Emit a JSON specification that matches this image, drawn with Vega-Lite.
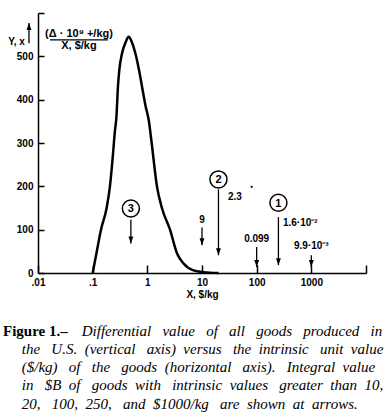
{
  "$schema": "https://vega.github.io/schema/vega-lite/v6.json",
  "width": 328,
  "height": 260,
  "autosize": {"type": "none"},
  "padding": {"left": 38, "top": 13, "right": 23, "bottom": 147},
  "background": "white",
  "config": {
    "view": {"stroke": null},
    "axis": {
      "grid": false,
      "domainColor": "black",
      "domainWidth": 1.5,
      "tickColor": "black",
      "tickWidth": 1.5,
      "labelFont": "Liberation Sans",
      "labelFontWeight": "bold",
      "labelFontSize": 10,
      "labelColor": "black",
      "titleFont": "Liberation Sans",
      "titleFontWeight": "bold",
      "titleFontSize": 10,
      "titleColor": "black"
    },
    "text": {"font": "Liberation Sans", "fontWeight": "bold", "fontSize": 10, "color": "black"}
  },
  "datasets": {
    "curve": [
      {"x": 0.1, "y": 0}, {"x": 0.117, "y": 45}, {"x": 0.142, "y": 100}, {"x": 0.18, "y": 150},
      {"x": 0.207, "y": 200}, {"x": 0.232, "y": 265}, {"x": 0.256, "y": 329}, {"x": 0.272, "y": 360},
      {"x": 0.29, "y": 430}, {"x": 0.308, "y": 470}, {"x": 0.345, "y": 507}, {"x": 0.4, "y": 532},
      {"x": 0.455, "y": 545}, {"x": 0.52, "y": 533}, {"x": 0.604, "y": 507}, {"x": 0.7, "y": 470},
      {"x": 0.8, "y": 430}, {"x": 0.93, "y": 385}, {"x": 1.06, "y": 353}, {"x": 1.2, "y": 300},
      {"x": 1.5, "y": 200}, {"x": 1.85, "y": 150}, {"x": 2.6, "y": 100}, {"x": 3.5, "y": 45},
      {"x": 4.6, "y": 22}, {"x": 7, "y": 6}, {"x": 10.7, "y": 2}, {"x": 20, "y": 0}
    ],
    "arrows": [
      {"x": 0.5, "y": 123, "ytip": 68},
      {"x": 10, "y": 105, "ytip": 64},
      {"x": 20, "y": 193, "ytip": 41},
      {"x": 100, "y": 60, "ytip": 14},
      {"x": 250, "y": 129, "ytip": 18},
      {"x": 1000, "y": 41, "ytip": 14}
    ],
    "circles": [
      {"x": 0.5, "y": 149, "n": "3"},
      {"x": 20, "y": 216, "n": "2"},
      {"x": 250, "y": 162, "n": "1"}
    ],
    "labelsAbove": [
      {"x": 10, "y": 122, "t": "9"},
      {"x": 100, "y": 79, "t": "0.099"},
      {"x": 1000, "y": 62, "t": "9.9·10⁻³"}
    ],
    "labelsRight": [
      {"x": 29.9, "y": 175, "t": "2.3"},
      {"x": 302, "y": 116, "t": "1.6·10⁻²"}
    ],
    "unitsText": [
      {"x": 0.0562, "y": 552, "t": "(Δ · 10⁹ +/kg)"},
      {"x": 0.0562, "y": 524, "t": "X, $/kg"}
    ],
    "fractionBar": [{"x": 0.0166, "x2": 0.19, "y": 538}],
    "yArrow": [{"x": 0.00684, "y": 530, "ytip": 577}],
    "dot": [{"x": 81, "y": 199}]
  },
  "encoding": {
    "x": {
      "field": "x", "type": "quantitative",
      "scale": {"type": "log", "domain": [0.01, 10000]},
      "axis": {
        "values": [0.01, 0.1, 1, 10, 100, 1000, 10000],
        "labelExpr": "datum.value == 0.01 ? '.01' : datum.value == 0.1 ? '.1' : datum.value == 10000 ? '' : format(datum.value, 'd')",
        "tickSize": -8,
        "labelPadding": 12.5,
        "labelFlush": false,
        "title": "X, $/kg",
        "titlePadding": 2
      }
    },
    "y": {
      "field": "y", "type": "quantitative",
      "scale": {"domain": [0, 600], "nice": false},
      "axis": {
        "values": [0, 100, 200, 300, 400, 500, 600],
        "labelExpr": "datum.value == 600 ? '' : datum.label",
        "tickSize": -6,
        "labelPadding": 11,
        "title": "Y, x",
        "titleAngle": 0,
        "titleAlign": "center",
        "titleBaseline": "middle",
        "titleX": -22,
        "titleY": 28
      }
    }
  },
  "layer": [
    {
      "data": {"name": "curve"},
      "mark": {"type": "line", "color": "black", "strokeWidth": 2.5, "interpolate": "monotone"}
    },
    {
      "data": {"name": "arrows"},
      "mark": {"type": "rule", "color": "black", "strokeWidth": 1.3},
      "encoding": {"y2": {"field": "ytip"}}
    },
    {
      "data": {"name": "arrows"},
      "mark": {"type": "point", "shape": "M-0.35,-1L0.35,-1L0,0Z", "filled": true, "color": "black", "size": 196, "opacity": 1},
      "encoding": {"y": {"field": "ytip", "type": "quantitative", "scale": {"domain": [0, 600], "nice": false}, "title": "Y, x"}}
    },
    {
      "data": {"name": "circles"},
      "mark": {"type": "point", "shape": "circle", "filled": false, "color": "black", "strokeWidth": 1.5, "size": 290, "opacity": 1}
    },
    {
      "data": {"name": "circles"},
      "mark": {"type": "text", "fontSize": 11, "baseline": "middle", "align": "center", "dy": 1},
      "encoding": {"text": {"field": "n"}}
    },
    {
      "data": {"name": "labelsAbove"},
      "mark": {"type": "text", "baseline": "middle", "align": "center"},
      "encoding": {"text": {"field": "t"}}
    },
    {
      "data": {"name": "labelsRight"},
      "mark": {"type": "text", "baseline": "middle", "align": "left"},
      "encoding": {"text": {"field": "t"}}
    },
    {
      "data": {"name": "unitsText"},
      "mark": {"type": "text", "baseline": "middle", "align": "center", "fontSize": 11},
      "encoding": {"text": {"field": "t"}}
    },
    {
      "data": {"name": "fractionBar"},
      "mark": {"type": "rule", "color": "black", "strokeWidth": 1.2},
      "encoding": {"x2": {"field": "x2"}}
    },
    {
      "data": {"name": "yArrow"},
      "mark": {"type": "rule", "color": "black", "strokeWidth": 1.3},
      "encoding": {"y2": {"field": "ytip"}}
    },
    {
      "data": {"name": "yArrow"},
      "mark": {"type": "point", "shape": "M-0.35,1L0.35,1L0,0Z", "filled": true, "color": "black", "size": 196, "opacity": 1},
      "encoding": {"y": {"field": "ytip", "type": "quantitative", "scale": {"domain": [0, 600], "nice": false}, "title": "Y, x"}}
    },
    {
      "data": {"name": "dot"},
      "mark": {"type": "point", "shape": "circle", "filled": true, "color": "black", "size": 5, "opacity": 1}
    }
  ],
  "title": {
    "text": "Figure 1.–",
    "subtitle": [
      "\u200b\u00a0\u00a0\u00a0\u00a0\u00a0\u00a0\u00a0\u00a0\u00a0\u00a0\u00a0\u00a0\u00a0\u00a0\u00a0\u00a0\u00a0\u00a0\u00a0\u00a0\u00a0Differential\u00a0\u00a0\u00a0value\u00a0\u00a0\u00a0of\u00a0\u00a0\u00a0all\u00a0\u00a0\u00a0goods\u00a0\u00a0\u00a0produced\u00a0\u00a0\u00a0in",
      "\u200b\u00a0\u00a0\u00a0\u00a0\u00a0the\u00a0\u00a0\u00a0U.S.\u00a0\u00a0(vertical\u00a0\u00a0\u00a0axis)\u00a0\u00a0versus\u00a0\u00a0\u00a0the\u00a0\u00a0intrinsic\u00a0\u00a0\u00a0unit\u00a0\u00a0value",
      "\u200b\u00a0\u00a0\u00a0\u00a0\u00a0($/kg)\u00a0\u00a0\u00a0of\u00a0\u00a0\u00a0the\u00a0\u00a0\u00a0goods\u00a0\u00a0(horizontal\u00a0\u00a0\u00a0axis).\u00a0\u00a0\u00a0Integral\u00a0\u00a0value",
      "\u200b\u00a0\u00a0\u00a0\u00a0\u00a0in\u00a0\u00a0\u00a0$B\u00a0\u00a0of\u00a0\u00a0\u00a0goods\u00a0\u00a0with\u00a0\u00a0\u00a0intrinsic\u00a0\u00a0values\u00a0\u00a0\u00a0greater\u00a0\u00a0than\u00a0\u00a010,",
      "\u200b\u00a0\u00a0\u00a0\u00a0\u00a020,\u00a0\u00a0\u00a0100,\u00a0\u00a0250,\u00a0\u00a0\u00a0and\u00a0\u00a0$1000/kg\u00a0\u00a0\u00a0are\u00a0\u00a0shown\u00a0\u00a0at\u00a0\u00a0arrows."
    ],
    "orient": "bottom",
    "anchor": "start",
    "frame": "group",
    "dx": -35,
    "offset": 24,
    "font": "Liberation Serif",
    "fontSize": 15,
    "fontWeight": "bold",
    "color": "black",
    "subtitleFont": "Liberation Serif",
    "subtitleFontSize": 15,
    "subtitleFontStyle": "italic",
    "subtitleFontWeight": "normal",
    "subtitleColor": "black",
    "subtitlePadding": -15,
    "subtitleLineHeight": 18.3
  }
}
